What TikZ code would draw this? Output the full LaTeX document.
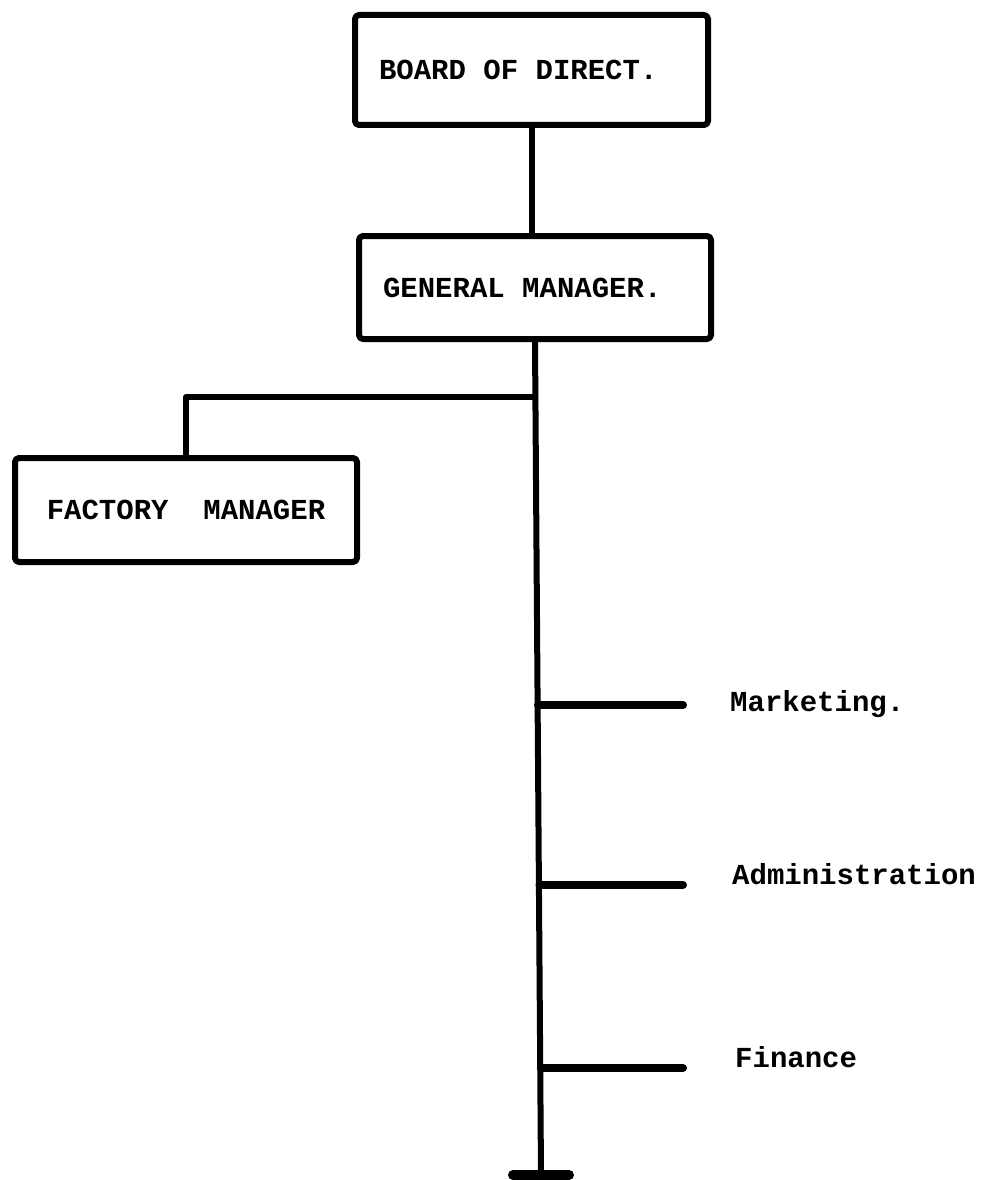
\documentclass[tikz,border=0pt]{standalone}
\usepackage{fontspec}
\setmonofont{Liberation Mono}
\usetikzlibrary{calc,positioning}

\newcommand\typeface{\ttfamily\bfseries\fontsize{29}{34}\selectfont}
\newcommand\cell{\hspace*{17.4pt}}

\tikzset{
  orgbox/.style={draw,line width=6pt,rounded corners=4pt,line join=round,
    inner xsep=24pt,font=\typeface},
  link/.style={line width=6pt},
  branch/.style={line width=8pt,line cap=round},
  dept/.style={anchor=base west,inner sep=0pt,font=\typeface},
}

\begin{document}
\begin{tikzpicture}[x=1pt,y=-1pt]
  \useasboundingbox (0,0) rectangle (985,1180);
  % boxes
  \node[orgbox,text width=305pt,align=left,minimum height=110pt] (board) at (531.5,70) {BOARD\cell OF\cell DIRECT.};
  \node[orgbox,text width=304pt,align=left,minimum height=103pt] (gm) at (535,287.5) {GENERAL\cell MANAGER.};
  \node[orgbox,text width=294pt,align=center,minimum height=104pt] (factory) at (186,510) {FACTORY\cell\cell MANAGER};
  % spine
  \coordinate (spinebot) at (541,1175);
  \coordinate (junc) at (535,397);
  \coordinate (mktfork) at (538,705);
  \coordinate (admfork) at (539.5,885);
  \coordinate (finfork) at (541,1068);
  \coordinate (mktend) at (683,705);
  \coordinate (admend) at (683,885);
  \coordinate (finend) at (683,1068);
  \draw[link] (board.south) -- (board.south |- gm.north);
  \draw[link] (gm.south) -- (spinebot);
  \draw[link,line join=round] (junc) -| (factory.north);
  % departments
  \node[dept] (mkt) at (730,711) {Marketing.};
  \node[dept] (adm) at (732,884) {Administration};
  \node[dept] (fin) at (735,1067) {Finance};
  \draw[branch] (mktfork) -- (mktend);
  \draw[branch] (admfork) -- (admend);
  \draw[branch] (finfork) -- (finend);
  % foot
  \draw[line width=10pt,line cap=round] ($(spinebot)+(-28,0)$) -- ($(spinebot)+(28,0)$);
\end{tikzpicture}
\end{document}
